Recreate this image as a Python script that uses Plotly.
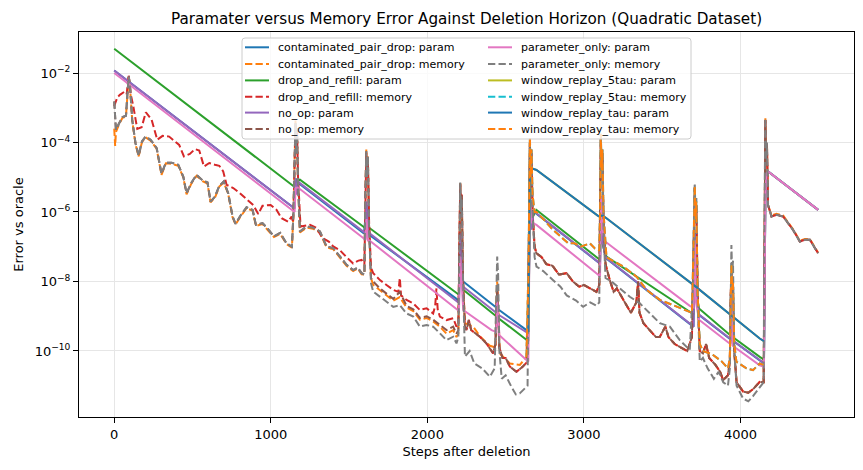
import plotly.graph_objects as go

# ---------------- data (x = steps after deletion, value = log10(error)) ----------------
PURPLE_PARAM = [(0,-1.93),(1140,-5.84),(1152,-5.9),(1158,-5.03),(1166,-5.5),(1175,-5.12),(1186,-5.17),
    (1595,-6.58),(1605,-6.6),(1612,-5.70),(1620,-6.6),(1630,-6.61),(2186,-8.58),(2202,-8.62),(2210,-6.61),
    (2218,-7.5),(2229,-8.15),(2440,-8.9),(2446,-8.6),(2452,-8.95),(2633,-9.46),(2645,-9.5),(2655,-5.55),
    (2665,-6.5),(2680,-5.95),(2697,-6.04),(3095,-7.45),(3103,-7.5),(3110,-5.55),(3118,-6.8),(3135,-7.25),
    (3144,-7.33),(3676,-9.21),(3700,-9.3),(3708,-6.61),(3716,-8.3),(3735,-8.95),(3935,-9.65),(3942,-8.4),
    (3950,-9.7),(4123,-10.26),(4150,-10.35),(4159,-5.5),(4166,-4.9),(4176,-4.83),(4496,-5.94)]

PINK_PARAM = [(0,-2.0),(1140,-5.94),(1152,-6.0),(1158,-5.3),(1170,-5.3),(1186,-5.34),(1595,-6.78),
    (1605,-6.8),(1612,-6.2),(1620,-6.82),(1630,-6.82),(2186,-8.82),(2202,-8.85),(2210,-7.28),(2218,-8.0),
    (2229,-8.82),(2410,-9.40),(2440,-9.45),(2446,-8.58),(2452,-9.2),(2460,-9.55),(2633,-10.26),(2645,-10.3),
    (2655,-5.55),(2665,-6.3),(2697,-6.37),(3095,-7.8),(3103,-7.85),(3110,-5.55),(3118,-6.5),(3135,-6.85),
    (3144,-6.88),(3676,-8.7),(3700,-8.75),(3708,-6.8),(3716,-8.6),(3735,-9.1),(3935,-9.8),(3942,-8.34),
    (3950,-9.85),(4123,-10.41),(4150,-10.45),(4159,-5.5),(4166,-4.9),(4176,-4.83),(4496,-5.94)]

GREEN_PARAM = [(0,-1.30),(1143,-5.25),(1152,-5.28),(1160,-5.05),(1170,-5.1),(1186,-5.07),(1595,-6.45),
    (1605,-6.47),(1612,-5.9),(1620,-6.45),(1633,-6.47),(2186,-8.34),(2202,-8.38),(2210,-6.8),(2218,-7.6),
    (2229,-8.24),(2440,-9.0),(2446,-8.7),(2452,-9.05),(2633,-9.69),(2645,-9.72),(2655,-5.55),(2665,-6.2),
    (2697,-5.94),(3095,-7.35),(3103,-7.38),(3110,-5.6),(3118,-6.9),(3135,-7.2),(3144,-7.28),(3676,-8.87),
    (3700,-8.95),(3708,-6.61),(3716,-8.3),(3735,-8.78),(3935,-9.55),(3942,-8.5),(3950,-9.6),(4123,-10.17),
    (4150,-10.25),(4159,-5.5),(4166,-4.9),(4176,-4.83),(4496,-5.94)]

CONTAM_PARAM = [(0,-1.93),(1140,-5.84),(1152,-5.9),(1158,-5.1),(1175,-5.15),(1186,-5.2),(1595,-6.62),
    (1612,-5.8),(1630,-6.66),(2186,-8.51),(2202,-8.55),(2210,-6.5),(2218,-7.4),(2229,-8.0),(2440,-8.75),
    (2446,-8.5),(2452,-8.8),(2633,-9.40),(2645,-9.45),(2655,-5.55),(2665,-6.5),(2680,-5.95),(2697,-6.05),
    (3095,-7.46),(3103,-7.5),(3110,-5.55),(3118,-6.8),(3135,-7.25),(3144,-7.34),(3676,-9.22),(3700,-9.3),
    (3708,-6.61),(3716,-8.3),(3735,-8.96),(3935,-9.66),(3942,-8.4),(3950,-9.7),(4123,-10.27),(4150,-10.35),
    (4159,-5.5),(4166,-4.9),(4176,-4.83),(4496,-5.94)]

WINDOW_PARAM = [(2645,-9.45),(2655,-5.0),(2670,-4.75),(2697,-4.79),(3090,-6.11),(3100,-6.13),(3110,-6.1),
    (3125,-6.12),(3144,-6.18),(3676,-8.0),(3720,-8.17),(4123,-9.64),(4150,-9.72)]

GRAY_MEM = [(0,-2.82),(11,-3.63),(32,-3.44),(53,-3.27),(75,-3.23),(92,-2.10),(100,-2.3),(115,-3.35),
    (136,-4.02),(156,-4.38),(177,-3.97),(200,-3.83),(232,-3.92),(271,-4.16),(302,-4.90),(330,-4.58),
    (366,-4.58),(409,-4.64),(441,-4.98),(462,-5.46),(494,-5.15),(526,-4.93),(564,-5.09),(596,-5.15),
    (615,-5.70),(643,-5.56),(671,-5.25),(700,-5.12),(728,-5.46),(756,-6.13),(775,-6.34),(803,-6.13),
    (845,-5.86),(884,-5.94),(905,-6.37),(947,-6.32),(984,-6.50),(1020,-6.7),(1060,-6.6),(1100,-6.9),
    (1135,-7.0),(1145,-6.0),(1152,-4.5),(1158,-3.45),(1163,-4.3),(1167,-3.6),(1173,-5.0),(1180,-6.0),
    (1186,-6.56),(1228,-6.42),(1270,-6.45),(1314,-6.56),(1356,-6.99),(1399,-7.04),(1441,-7.28),(1484,-7.52),
    (1526,-7.67),(1555,-7.6),(1580,-7.76),(1598,-7.8),(1604,-5.5),(1610,-4.25),(1615,-5.0),(1620,-4.4),
    (1628,-6.5),(1640,-8.05),(1654,-8.29),(1697,-8.44),(1739,-8.58),(1782,-8.73),(1824,-8.68),(1867,-8.92),
    (1910,-9.01),(1952,-9.30),(1995,-9.25),(2037,-9.30),(2080,-9.49),(2122,-9.69),(2165,-9.59),(2186,-9.78),
    (2198,-9.6),(2204,-7.0),(2210,-5.15),(2215,-6.0),(2220,-5.6),(2228,-8.0),(2240,-10.16),(2270,-10.0),
    (2300,-10.36),(2350,-10.5),(2399,-10.74),(2430,-10.5),(2440,-8.0),(2446,-7.28),(2452,-7.8),(2460,-10.0),
    (2475,-10.8),(2500,-10.7),(2537,-11.03),(2565,-11.25),(2590,-11.22),(2620,-11.1),(2640,-11.0),
    (2648,-7.0),(2655,-4.0),(2660,-5.0),(2665,-4.2),(2672,-6.0),(2685,-7.3),(2697,-7.57),(2740,-7.7),
    (2800,-7.95),(2850,-8.15),(2890,-8.4),(2950,-8.55),(2995,-8.73),(3040,-8.6),(3080,-8.7),(3098,-8.6),
    (3103,-6.0),(3108,-3.85),(3113,-4.8),(3118,-4.2),(3125,-6.5),(3138,-7.9),(3176,-8.0),(3229,-8.2),
    (3293,-8.44),(3357,-8.63),(3400,-8.82),(3485,-9.2),(3549,-9.3),(3612,-9.69),(3676,-9.97),(3698,-8.0),
    (3705,-5.5),(3708,-5.17),(3713,-6.2),(3718,-5.6),(3726,-8.5),(3740,-10.3),(3760,-10.2),(3790,-10.5),
    (3830,-10.8),(3860,-10.6),(3890,-10.9),(3920,-11.0),(3932,-10.5),(3937,-8.0),(3942,-6.95),(3947,-7.8),
    (3952,-7.4),(3960,-10.0),(3975,-11.0),(4017,-11.37),(4050,-11.45),(4080,-11.3),(4123,-11.05),
    (4148,-10.9),(4153,-6.0),(4159,-3.30),(4164,-4.5),(4169,-4.0),(4176,-5.8),(4198,-6.13),(4230,-6.08),
    (4272,-6.13),(4304,-6.32),(4336,-6.52),(4379,-6.85),(4411,-6.80),(4443,-6.80),(4464,-6.95),(4496,-7.19)]

RED_MEM = [(0,-2.95),(20,-2.7),(36,-2.63),(68,-2.53),(80,-2.6),(92,-2.05),(105,-2.6),(122,-2.96),
    (147,-3.61),(175,-3.56),(202,-3.13),(239,-3.35),(275,-3.92),(309,-3.81),(351,-3.83),(381,-3.94),
    (415,-4.07),(445,-4.40),(483,-4.33),(515,-4.19),(543,-4.23),(573,-4.69),(607,-4.59),(643,-4.64),
    (671,-4.67),(696,-4.83),(718,-5.22),(760,-5.31),(798,-5.44),(845,-5.63),(888,-5.80),(920,-6.06),
    (947,-5.82),(999,-5.80),(1037,-5.94),(1069,-6.18),(1111,-6.28),(1133,-6.13),(1142,-6.3),(1148,-5.5),
    (1154,-4.0),(1158,-3.5),(1163,-4.2),(1168,-3.7),(1174,-5.0),(1182,-6.0),(1190,-6.42),(1250,-6.37),
    (1290,-6.45),(1330,-6.75),(1370,-6.85),(1399,-6.99),(1441,-7.1),(1484,-7.3),(1526,-7.48),(1560,-7.4),
    (1580,-7.38),(1598,-7.5),(1604,-5.4),(1610,-4.3),(1615,-5.0),(1620,-4.5),(1628,-6.3),(1640,-7.6),
    (1654,-7.76),(1697,-7.96),(1739,-8.10),(1782,-8.24),(1815,-8.3),(1824,-7.9),(1832,-8.4),(1867,-8.53),
    (1910,-8.63),(1952,-8.82),(1995,-8.77),(2037,-8.92),(2050,-8.7),(2058,-8.2),(2066,-8.8),(2080,-9.01),
    (2122,-9.11),(2165,-9.06),(2186,-9.3),(2198,-9.2),(2204,-7.0),(2210,-5.2),(2215,-6.0),(2220,-5.5),
    (2228,-8.0),(2240,-9.3),(2250,-9.40),(2265,-9.11),(2280,-9.4),(2335,-9.59),(2377,-9.78),(2420,-10.07),
    (2435,-9.8),(2441,-8.8),(2446,-8.2),(2451,-8.8),(2460,-9.9),(2480,-10.2),(2500,-10.2),(2527,-10.45),
    (2569,-10.60),(2610,-10.45),(2640,-10.3),(2648,-7.0),(2655,-4.0),(2660,-5.0),(2665,-4.3),(2672,-6.0),
    (2685,-7.0),(2697,-7.19),(2730,-7.3),(2760,-7.5),(2800,-7.55),(2840,-7.8),(2889,-7.76),(2930,-8.0),
    (2970,-8.15),(3000,-8.1),(3040,-8.2),(3080,-8.3),(3098,-8.1),(3103,-6.0),(3108,-3.9),(3113,-4.8),
    (3118,-4.3),(3125,-6.3),(3138,-7.5),(3165,-7.96),(3190,-8.3),(3210,-8.2),(3250,-8.5),(3300,-8.9),
    (3335,-8.6),(3346,-8.0),(3355,-8.9),(3380,-9.2),(3420,-9.4),(3460,-9.6),(3485,-9.59),(3500,-9.45),
    (3520,-9.3),(3540,-9.6),(3580,-9.8),(3620,-9.9),(3660,-10.0),(3690,-9.6),(3700,-7.0),(3708,-5.3),
    (3713,-6.2),(3718,-5.8),(3726,-8.3),(3740,-10.0),(3760,-10.07),(3780,-9.8),(3800,-10.2),(3840,-10.4),
    (3870,-10.6),(3889,-10.84),(3920,-10.7),(3932,-10.3),(3937,-8.5),(3942,-7.76),(3947,-8.5),(3952,-8.2),
    (3960,-10.0),(3975,-10.9),(4017,-11.17),(4050,-11.2),(4080,-11.1),(4123,-10.89),(4148,-10.9),
    (4153,-6.0),(4159,-3.35),(4164,-4.5),(4169,-4.05),(4176,-5.8),(4198,-6.13),(4230,-6.08),(4272,-6.13),
    (4304,-6.32),(4336,-6.52),(4379,-6.85),(4411,-6.80),(4443,-6.80),(4464,-6.95),(4496,-7.19)]

BROWN_MEM = [(0,-2.82),(11,-3.63),(32,-3.44),(53,-3.27),(75,-3.23),(92,-2.10),(100,-2.3),(115,-3.35),
    (136,-4.02),(156,-4.38),(177,-3.97),(200,-3.83),(232,-3.92),(271,-4.16),(302,-4.90),(330,-4.58),
    (366,-4.58),(409,-4.64),(441,-4.98),(462,-5.46),(494,-5.15),(526,-4.93),(564,-5.09),(596,-5.15),
    (615,-5.70),(643,-5.56),(671,-5.25),(700,-5.12),(728,-5.46),(756,-6.13),(775,-6.34),(803,-6.13),
    (845,-5.86),(884,-5.94),(905,-6.37),(947,-6.32),(984,-6.50),(1020,-6.7),(1060,-6.6),(1100,-6.9),
    (1135,-7.0),(1145,-6.0),(1152,-4.5),(1158,-3.45),(1163,-4.3),(1167,-3.6),(1173,-5.0),(1180,-6.0),
    (1186,-6.56),(1228,-6.42),(1270,-6.45),(1314,-6.56),(1356,-6.99),(1399,-7.04),(1441,-7.28),(1484,-7.52),
    (1526,-7.67),(1555,-7.6),(1580,-7.76),(1598,-7.8),(1604,-5.5),(1610,-4.25),(1615,-5.0),(1620,-4.4),
    (1628,-6.5),(1640,-7.9),(1654,-8.0),(1697,-8.2),(1739,-8.35),(1782,-8.5),(1824,-8.3),(1867,-8.7),
    (1910,-8.8),(1952,-9.05),(1995,-9.0),(2037,-9.1),(2080,-9.25),(2122,-9.4),(2165,-9.3),(2186,-9.5),
    (2198,-9.4),(2204,-7.0),(2210,-5.18),(2215,-6.0),(2220,-5.5),(2228,-8.0),(2240,-9.3),(2250,-9.40),
    (2265,-9.11),(2280,-9.4),(2335,-9.59),(2377,-9.78),(2420,-10.07),(2435,-9.8),(2441,-8.8),(2446,-8.2),
    (2451,-8.8),(2460,-9.9),(2480,-10.2),(2500,-10.2),(2527,-10.45),(2569,-10.60),(2610,-10.45),(2640,-10.3),
    (2648,-7.0),(2655,-4.0),(2660,-5.0),(2665,-4.3),(2672,-6.0),(2685,-7.0),(2697,-7.19),(2730,-7.3),
    (2760,-7.5),(2800,-7.55),(2840,-7.8),(2889,-7.76),(2930,-8.0),(2970,-8.15),(3000,-8.1),(3040,-8.2),
    (3080,-8.3),(3098,-8.1),(3103,-6.0),(3108,-3.9),(3113,-4.8),(3118,-4.3),(3125,-6.3),(3138,-7.5),
    (3165,-7.96),(3190,-8.3),(3210,-8.2),(3250,-8.5),(3300,-8.9),(3335,-8.6),(3346,-8.0),(3355,-8.9),
    (3380,-9.2),(3420,-9.4),(3460,-9.6),(3485,-9.59),(3500,-9.45),(3520,-9.3),(3540,-9.6),(3580,-9.8),
    (3620,-9.9),(3660,-10.0),(3690,-9.6),(3700,-7.0),(3708,-5.3),(3713,-6.2),(3718,-5.8),(3726,-8.3),
    (3740,-10.0),(3760,-10.07),(3780,-9.8),(3800,-10.2),(3840,-10.4),(3870,-10.6),(3889,-10.84),
    (3920,-10.7),(3932,-10.3),(3937,-8.5),(3942,-7.76),(3947,-8.5),(3952,-8.2),(3960,-10.0),(3975,-10.9),
    (4017,-11.17),(4050,-11.2),(4080,-11.1),(4123,-10.89),(4148,-10.9),(4153,-6.0),(4159,-3.35),
    (4164,-4.5),(4169,-4.05),(4176,-5.8),(4198,-6.13),(4230,-6.08),(4272,-6.13),(4304,-6.32),(4336,-6.52),
    (4379,-6.85),(4411,-6.80),(4443,-6.80),(4464,-6.95),(4496,-7.19)]

CONTAM_MEM = [(0,-3.6),(6,-4.1),(11,-3.7),(32,-3.46),(53,-3.29),(75,-3.25),(92,-2.15),(100,-2.35),
    (115,-3.37),(136,-4.05),(156,-4.40),(177,-3.99),(200,-3.85),(232,-3.95),(271,-4.18),(302,-4.93),
    (330,-4.60),(366,-4.61),(409,-4.67),(441,-5.00),(462,-5.49),(494,-5.17),(526,-4.96),(564,-5.11),
    (596,-5.18),(615,-5.72),(643,-5.59),(671,-5.27),(700,-5.15),(728,-5.48),(756,-6.16),(775,-6.36),
    (803,-6.16),(845,-5.89),(884,-5.96),(905,-6.40),(947,-6.35),(984,-6.53),(1020,-6.72),(1060,-6.63),
    (1100,-6.92),(1135,-7.03),(1145,-6.0),(1152,-4.5),(1158,-3.35),(1163,-4.3),(1167,-3.6),(1173,-5.0),
    (1180,-6.0),(1186,-6.59),(1228,-6.45),(1270,-6.48),(1314,-6.59),(1356,-7.02),(1399,-7.07),(1441,-7.31),
    (1484,-7.55),(1526,-7.70),(1555,-7.63),(1580,-7.79),(1598,-7.8),(1604,-5.5),(1610,-4.2),(1615,-5.0),
    (1620,-4.4),(1628,-6.5),(1640,-7.9),(1654,-8.1),(1697,-8.25),(1739,-8.4),(1782,-8.55),(1824,-8.45),
    (1867,-8.75),(1910,-8.85),(1952,-9.1),(1995,-9.05),(2037,-9.15),(2080,-9.3),(2122,-9.5),(2165,-9.4),
    (2186,-9.6),(2198,-9.5),(2204,-7.0),(2210,-5.15),(2215,-6.0),(2220,-5.6),(2228,-8.0),(2240,-9.2),
    (2293,-9.30),(2340,-9.6),(2400,-9.85),(2435,-9.9),(2441,-8.5),(2446,-8.0),(2451,-8.6),(2463,-10.07),
    (2527,-10.36),(2591,-10.40),(2633,-10.17),(2648,-7.0),(2655,-4.0),(2660,-5.0),(2665,-4.3),(2672,-6.0),
    (2685,-7.0),(2697,-7.19),(2730,-7.3),(2760,-7.5),(2800,-7.55),(2840,-7.8),(2889,-7.76),(2930,-8.0),
    (2970,-8.15),(3000,-8.1),(3040,-8.2),(3080,-8.3),(3098,-8.1),(3103,-6.0),(3108,-3.9),(3113,-4.8),
    (3118,-4.3),(3125,-6.3),(3138,-7.5),(3165,-7.96),(3190,-8.3),(3210,-8.2),(3250,-8.5),(3300,-8.9),
    (3335,-8.6),(3346,-8.0),(3355,-8.9),(3380,-9.2),(3420,-9.4),(3460,-9.6),(3485,-9.59),(3500,-9.45),
    (3520,-9.3),(3540,-9.6),(3580,-9.8),(3620,-9.9),(3660,-10.0),(3690,-9.6),(3700,-7.0),(3708,-5.3),
    (3713,-6.2),(3718,-5.8),(3726,-8.3),(3740,-10.0),(3760,-10.07),(3780,-9.8),(3800,-10.2),(3840,-10.4),
    (3870,-10.6),(3889,-10.84),(3920,-10.7),(3932,-10.3),(3937,-8.5),(3942,-7.76),(3947,-8.5),(3952,-8.2),
    (3960,-10.0),(3975,-10.9),(4017,-11.17),(4050,-11.2),(4080,-11.1),(4123,-10.89),(4148,-10.9),
    (4153,-6.0),(4159,-3.3),(4164,-4.5),(4169,-4.0),(4176,-5.8),(4198,-6.1),(4230,-6.05),(4272,-6.1),
    (4304,-6.3),(4336,-6.5),(4379,-6.83),(4411,-6.78),(4443,-6.78),(4464,-6.93),(4496,-7.17)]

WINDOW_MEM = [(2633,-10.17),(2645,-8.0),(2655,-3.85),(2660,-5.0),(2665,-4.2),(2672,-5.5),(2685,-6.0),
    (2697,-6.0),(2740,-6.2),(2800,-6.5),(2850,-6.7),(2900,-6.9),(2940,-6.9),(2980,-7.0),(3038,-6.9),
    (3070,-7.05),(3098,-7.1),(3103,-6.0),(3108,-3.75),(3113,-4.8),(3118,-4.2),(3125,-6.0),(3144,-7.3),
    (3251,-7.57),(3336,-7.86),(3400,-8.24),(3485,-8.53),(3570,-8.68),(3655,-8.82),(3690,-8.9),(3700,-7.0),
    (3708,-5.25),(3713,-6.2),(3718,-5.7),(3726,-8.3),(3740,-9.8),(3760,-10.0),(3820,-10.1),(3880,-10.3),
    (3920,-10.5),(3932,-10.2),(3937,-8.3),(3942,-7.5),(3947,-8.2),(3952,-8.0),(3960,-9.8),(3974,-10.31),
    (4038,-10.5),(4080,-10.55),(4123,-10.36),(4148,-10.4)]

# legend order: (label, data, color, dash)
SERIES = [
    ("contaminated_pair_drop: param",  CONTAM_PARAM, "#1f77b4", "solid"),
    ("contaminated_pair_drop: memory", CONTAM_MEM,   "#ff7f0e", "dash"),
    ("drop_and_refill: param",         GREEN_PARAM,  "#2ca02c", "solid"),
    ("drop_and_refill: memory",        RED_MEM,      "#d62728", "dash"),
    ("no_op: param",                   PURPLE_PARAM, "#9467bd", "solid"),
    ("no_op: memory",                  BROWN_MEM,    "#8c564b", "dash"),
    ("parameter_only: param",          PINK_PARAM,   "#e377c2", "solid"),
    ("parameter_only: memory",         GRAY_MEM,     "#7f7f7f", "dash"),
    ("window_replay_5tau: param",      WINDOW_PARAM, "#bcbd22", "solid"),
    ("window_replay_5tau: memory",     WINDOW_MEM,   "#17becf", "dash"),
    ("window_replay_tau: param",       WINDOW_PARAM, "#1f77b4", "solid"),
    ("window_replay_tau: memory",      WINDOW_MEM,   "#ff7f0e", "dash"),
]

Y_TICK_EXP = [-2, -4, -6, -8, -10]
X_TICKS = [0, 1000, 2000, 3000, 4000]

# ---------------- layout geometry (pixels) ----------------
W, H = 863, 470
L, R, T, B = 79, 854, 32, 417
PW, PH = R - L, B - T
DASH = "7.3px,3.2px"

def px(xp):
    return (xp - L) / PW

def py(yp):
    return (B - yp) / PH

fig = go.Figure()
for name, data, color, dash in SERIES:
    xs = [p[0] for p in data]
    ys = [10 ** p[1] for p in data]
    fig.add_trace(go.Scatter(
        x=xs, y=ys, mode="lines", name=name, showlegend=False,
        line=dict(color=color, width=2, dash=(DASH if dash == "dash" else "solid")),
        hoverinfo="skip"))

FONT = "DejaVu Sans, Verdana, sans-serif"

shapes = []
annotations = []
x0, y0, x1, y1, r = 242, 38, 691, 139, 3
path = (f"M {px(x0 + r)} {py(y0)} L {px(x1 - r)} {py(y0)} Q {px(x1)} {py(y0)} {px(x1)} {py(y0 + r)} "
        f"L {px(x1)} {py(y1 - r)} Q {px(x1)} {py(y1)} {px(x1 - r)} {py(y1)} "
        f"L {px(x0 + r)} {py(y1)} Q {px(x0)} {py(y1)} {px(x0)} {py(y1 - r)} "
        f"L {px(x0)} {py(y0 + r)} Q {px(x0)} {py(y0)} {px(x0 + r)} {py(y0)} Z")
shapes.append(dict(type="path", path=path, xref="paper", yref="paper",
                   fillcolor="rgba(255,255,255,0.8)", line=dict(color="#cccccc", width=1), layer="above"))
ROW_Y = [47.3, 64.0, 80.4, 96.7, 112.6, 129.0]
COLS = [(245, 269, 277), (488, 512, 520)]
for i, (name, data, color, dash) in enumerate(SERIES):
    c, rrow = divmod(i, 6)
    hx0, hx1, tx = COLS[c]
    yy = ROW_Y[rrow]
    shapes.append(dict(type="line", xref="paper", yref="paper", x0=px(hx0), x1=px(hx1),
                       y0=py(yy), y1=py(yy), layer="above",
                       line=dict(color=color, width=2, dash=(DASH if dash == "dash" else "solid"))))
    annotations.append(dict(text=name, xref="paper", yref="paper", x=px(tx - 1), y=py(yy + 0.5),
                            xanchor="left", yanchor="middle", showarrow=False,
                            font=dict(family=FONT, size=11, color="#000000")))

fig.update_layout(
    width=W, height=H,
    margin=dict(l=L, r=W - R, t=T, b=H - B, pad=0),
    paper_bgcolor="white", plot_bgcolor="white",
    showlegend=False,
    font=dict(family=FONT, size=13, color="#000000"),
    title=dict(text="Paramater versus Memory Error Against Deletion Horizon (Quadratic Dataset)",
               x=px((L + R) / 2), xref="paper", xanchor="center",
               y=1 - 19 / H, yref="container", yanchor="middle",
               font=dict(family=FONT, size=15.2, color="#000000")),
    shapes=shapes, annotations=annotations,
    hovermode=False,
)
fig.update_xaxes(
    range=[-225, 4725], tickmode="array", tickvals=X_TICKS, ticktext=[str(v) for v in X_TICKS],
    showline=True, mirror=True, linecolor="black", linewidth=1,
    ticks="outside", ticklen=5, tickwidth=1, tickcolor="black",
    showgrid=True, gridcolor="#e6e6e6", gridwidth=1, zeroline=False,
    tickfont=dict(family=FONT, size=13),
    title=dict(text="Steps after deletion", font=dict(family=FONT, size=13), standoff=6),
)
fig.update_yaxes(
    type="log", range=[-11.9, -0.82], tickmode="array",
    tickvals=[10 ** e for e in Y_TICK_EXP],
    ticktext=[f"10<sup>\u2212{abs(e)}</sup>" for e in Y_TICK_EXP],
    showline=True, mirror=True, linecolor="black", linewidth=1,
    ticks="outside", ticklen=5, tickwidth=1, tickcolor="black",
    showgrid=True, gridcolor="#e6e6e6", gridwidth=1, zeroline=False,
    tickfont=dict(family=FONT, size=13),
    title=dict(text="Error vs oracle", font=dict(family=FONT, size=13), standoff=8),
)

fig.write_html("out.html", config={"displayModeBar": False})
